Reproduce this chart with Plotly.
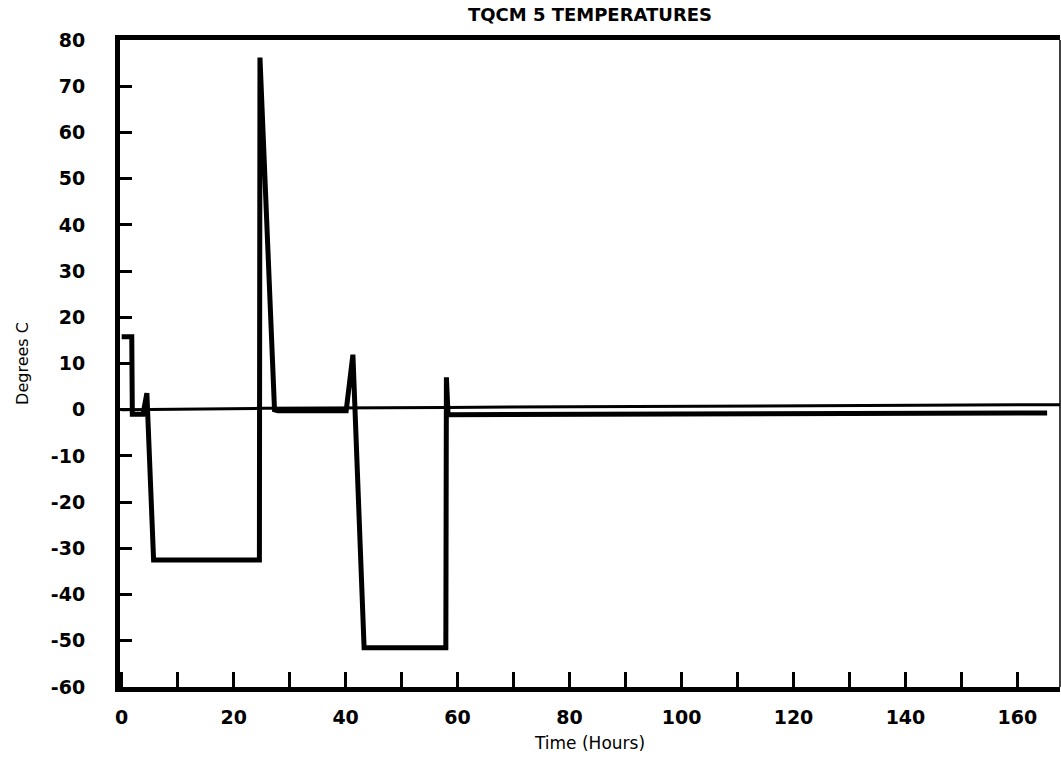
import plotly.graph_objects as go

# Main (thick) temperature trace
main_hours = [0, 1.8, 1.9, 3.8, 4.5, 5.7, 24.6, 24.7, 27.3, 27.9, 40.1, 41.3, 43.3,
              57.9, 58.0, 58.3, 165.3]
main_temp = [15.8, 15.8, -1.0, -1.0, 3.6, -32.5, -32.5, 76.2, 0.0, -0.2, -0.2, 11.9, -51.5,
             -51.5, 7.0, -1.1, -0.7]

# Thin reference trace near zero
thin_hours = [0, 25, 58, 168]
thin_temp = [0.0, 0.3, 0.5, 1.1]

x_tickvals = [0, 10, 20, 30, 40, 50, 60, 70, 80, 90, 100, 110, 120, 130, 140, 150, 160]
x_ticktext = ["0", "", "20", "", "40", "", "60", "", "80", "", "100", "", "120", "", "140", "", "160"]
y_tickvals = [-60, -50, -40, -30, -20, -10, 0, 10, 20, 30, 40, 50, 60, 70, 80]
y_ticktext = ["-60", "-50", "-40", "-30", "-20", "-10", "0", "10", "20", "30", "40", "50",
              "60", "70", "80"]

fig = go.Figure()
fig.add_trace(go.Scatter(x=thin_hours, y=thin_temp, mode="lines",
                         line=dict(color="black", width=3), showlegend=False))
fig.add_trace(go.Scatter(x=main_hours, y=main_temp, mode="lines",
                         line=dict(color="black", width=5), showlegend=False))

tick_font = dict(family="DejaVu Sans", size=19, color="black", weight="bold")

fig.update_layout(
    width=1061, height=766,
    margin=dict(l=120, r=1, t=40, b=79),
    paper_bgcolor="white", plot_bgcolor="white",
    title=dict(text="TQCM 5 TEMPERATURES", x=0.5, xref="paper", y=1 - 15 / 766,
               yanchor="middle", xanchor="center",
               font=dict(family="DejaVu Sans", size=18, color="black", weight="bold")),
    xaxis=dict(range=[-0.3, 167.6], tickvals=x_tickvals, ticktext=x_ticktext,
               ticks="inside", ticklen=15, tickwidth=3, tickcolor="black",
               showline=True, linewidth=5, linecolor="black", mirror=True,
               showgrid=False, zeroline=False, tickfont=tick_font,
               ticklabelstandoff=9,
               title=dict(text="Time (Hours)", standoff=12,
                          font=dict(family="DejaVu Sans", size=17, color="black"))),
    yaxis=dict(range=[-60, 80], tickvals=y_tickvals, ticktext=y_ticktext,
               ticks="inside", ticklen=12, tickwidth=3, tickcolor="black",
               showline=True, linewidth=5, linecolor="black", mirror=False,
               showgrid=False, zeroline=False, tickfont=tick_font,
               ticklabelstandoff=26,
               title=dict(text="Degrees C", standoff=20,
                          font=dict(family="DejaVu Sans", size=16, color="black"))),
)

# thin right frame edge
fig.add_shape(type="line", xref="paper", yref="paper", x0=1, x1=1, y0=0, y1=1,
              line=dict(color="black", width=1.5))

fig.write_html("out.html")
